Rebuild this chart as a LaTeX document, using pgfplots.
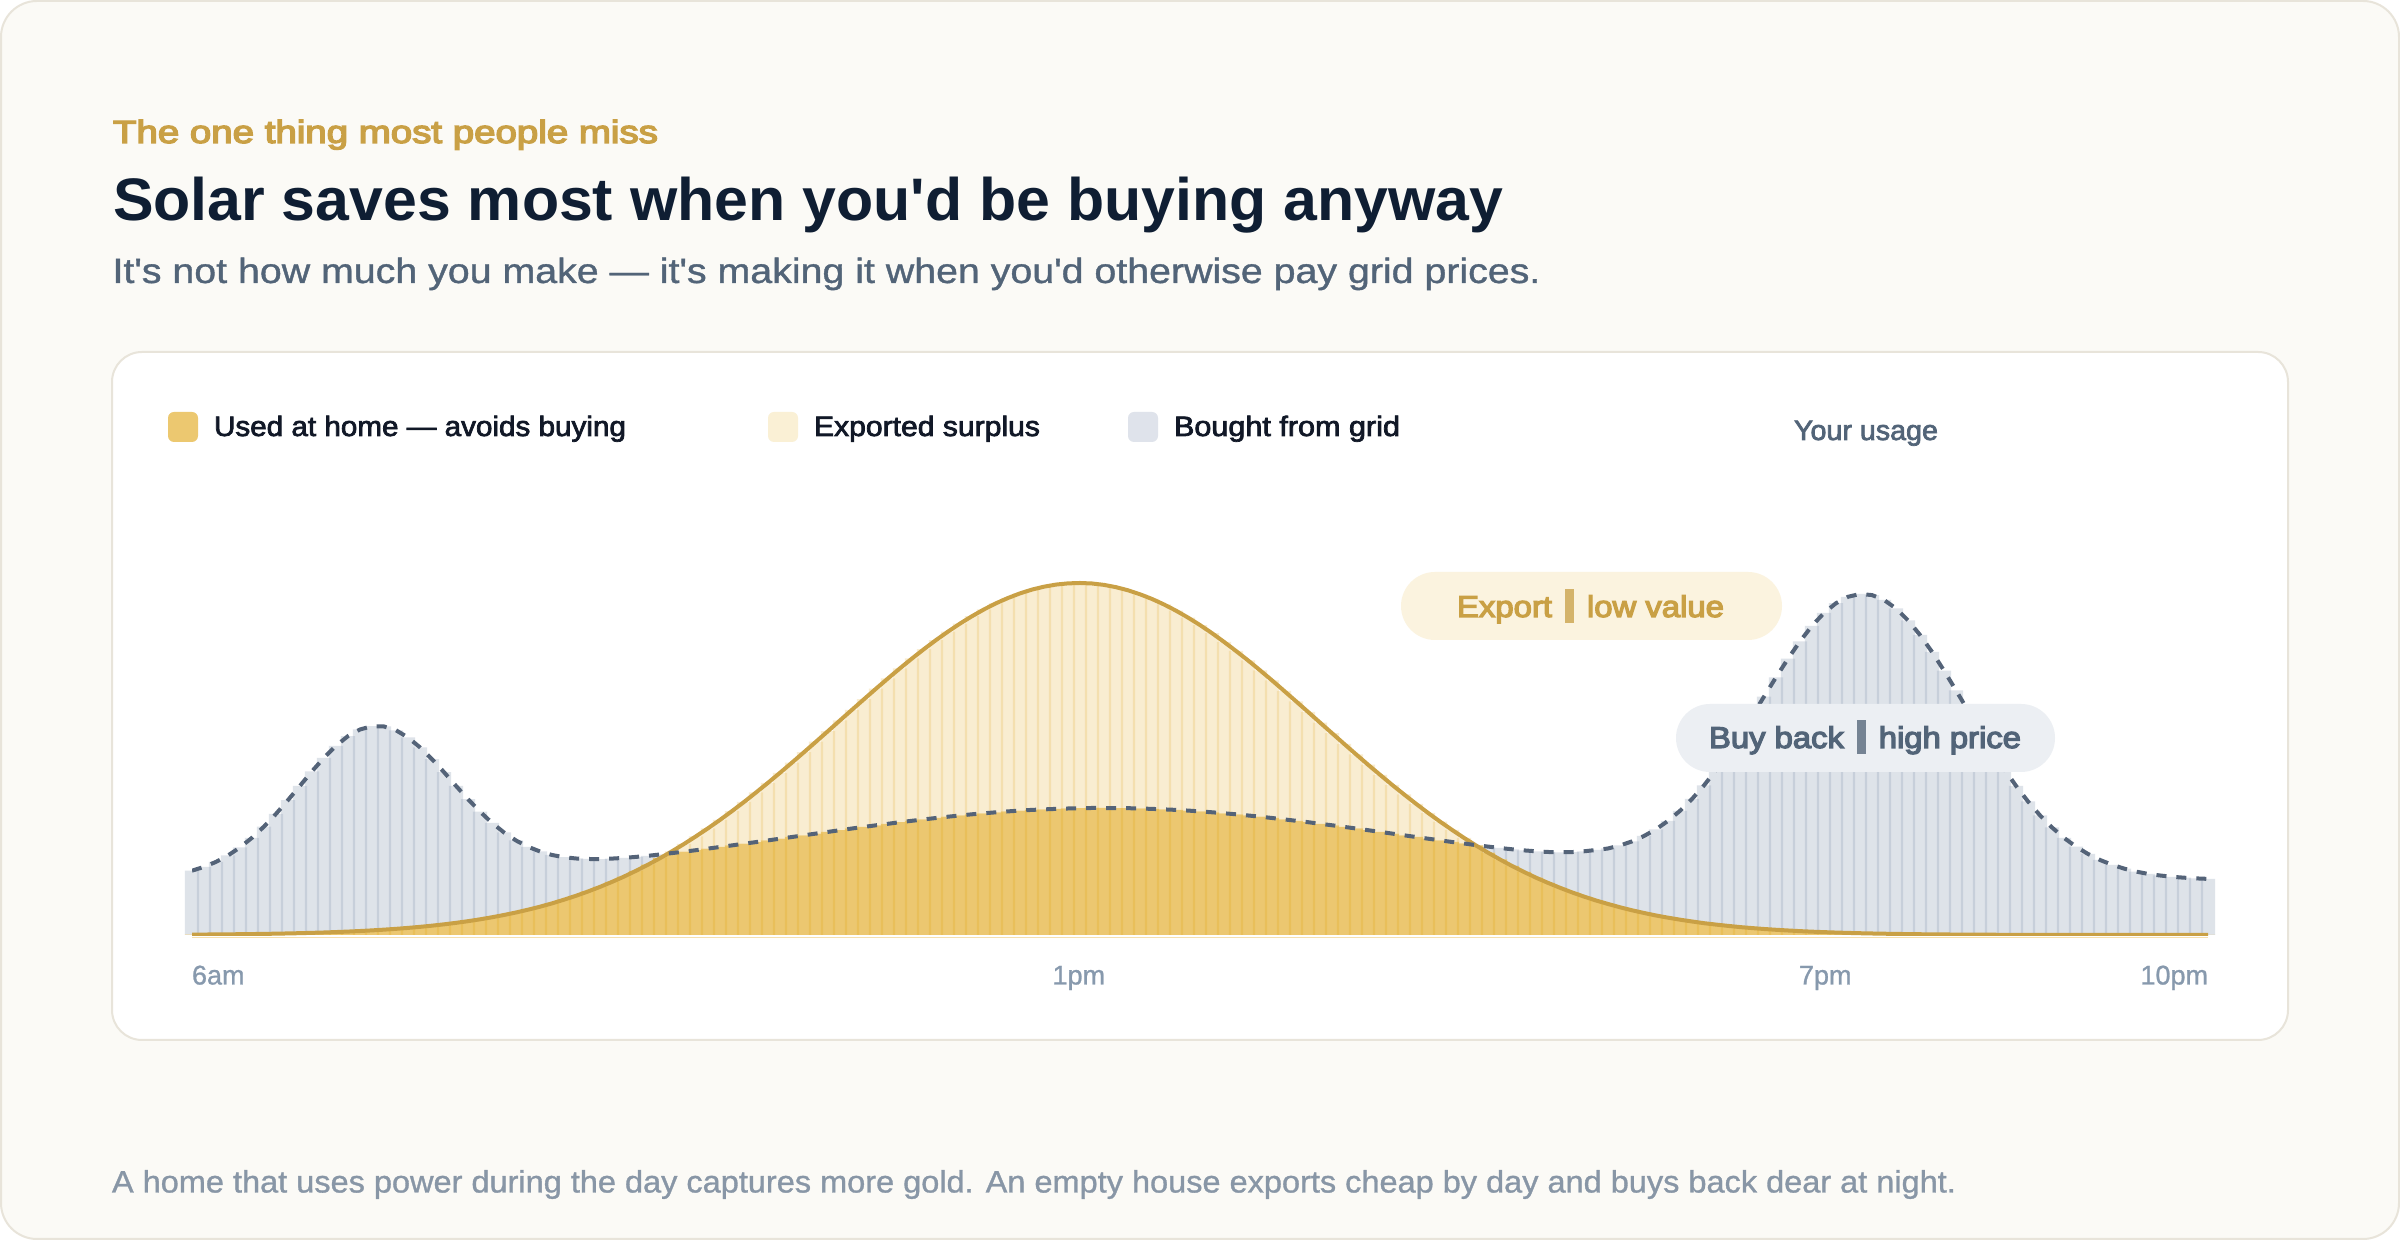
\documentclass[border=0pt]{standalone}
\usepackage{fontspec}
\usepackage{graphicx}
\usepackage{pgfplots}
\usepackage{pgfplotstable}
\pgfplotsset{compat=1.18}
\newfontfamily\rfont{Liberation Sans}[FakeBold=1]
\newfontfamily\medfont{Liberation Sans}[FakeBold=2.5]
\newfontfamily\semifont{Liberation Sans}[FakeBold=4]
\newfontfamily\tfont{Liberation Sans}[BoldFont={Liberation Sans Bold}]
\definecolor{bgcol}{HTML}{FBFAF6}
\definecolor{edgecol}{HTML}{E8E4DA}
\definecolor{gold}{HTML}{C9A045}
\definecolor{usedfill}{HTML}{E9BE57}
\definecolor{goldfill}{HTML}{E8B84B}
\definecolor{slatefill}{HTML}{94A3B8}
\definecolor{slateline}{HTML}{546378}
\definecolor{subcol}{HTML}{526478}
\definecolor{inkcol}{HTML}{0F1E33}
\definecolor{tickcol}{HTML}{8799AD}
\definecolor{footcol}{HTML}{8896A6}
\definecolor{legcol}{HTML}{111827}
\definecolor{swgold}{HTML}{ECC870}
\definecolor{swexp}{HTML}{FAF0D5}
\definecolor{swgrey}{HTML}{DFE3EB}
\definecolor{pillgold}{HTML}{FBF3DF}
\definecolor{pillgrey}{HTML}{ECEFF3}
\pgfplotstableread{
i solar usage
0 0.38 64.3
1 0.46 68.1
2 0.55 73.1
3 0.66 79.5
4 0.78 87.6
5 0.93 97.2
6 1.11 108.4
7 1.31 121.1
8 1.55 134.9
9 1.82 149.2
10 2.14 163.7
11 2.50 177.2
12 2.93 189.2
13 3.41 198.9
14 3.97 205.5
15 4.60 208.8
16 5.33 208.5
17 6.15 204.7
18 7.08 197.5
19 8.13 187.6
20 9.32 175.8
21 10.65 162.8
22 12.14 149.1
23 13.80 135.8
24 15.66 123.4
25 17.72 112.1
26 20.0 102.5
27 22.5 94.5
28 25.3 88.2
29 28.3 83.5
30 31.6 80.0
31 35.3 77.8
32 39.2 76.5
33 43.5 76.0
34 48.1 75.9
35 53.1 76.4
36 58.4 77.1
37 64.2 78.1
38 70.3 79.2
39 76.8 80.5
40 83.7 81.9
41 91.0 83.3
42 98.7 84.8
43 106.7 86.4
44 115.1 88.0
45 123.9 89.6
46 133.0 91.3
47 142.5 92.9
48 152.2 94.6
49 162.2 96.3
50 172.4 98.0
51 182.8 99.7
52 193.3 101.4
53 203.9 103.1
54 214.6 104.8
55 225.2 106.5
56 235.8 108.1
57 246.3 109.7
58 256.6 111.2
59 266.7 112.8
60 276.5 114.2
61 285.9 115.6
62 294.9 117.0
63 303.4 118.3
64 311.4 119.5
65 318.8 120.7
66 325.6 121.7
67 331.7 122.7
68 337.0 123.6
69 341.6 124.4
70 345.4 125.1
71 348.3 125.6
72 350.4 126.1
73 351.6 126.5
74 352.0 126.8
75 351.5 127.0
76 350.1 127.0
77 347.8 126.9
78 344.7 126.8
79 340.7 126.5
80 336.0 126.1
81 330.5 125.6
82 324.3 125.1
83 317.4 124.4
84 309.9 123.6
85 301.8 122.7
86 293.1 121.7
87 284.0 120.7
88 274.6 119.5
89 264.7 118.3
90 254.6 117.0
91 244.2 115.6
92 233.7 114.2
93 223.1 112.8
94 212.4 111.2
95 201.8 109.7
96 191.2 108.1
97 180.7 106.5
98 170.3 104.8
99 160.2 103.1
100 150.2 101.4
101 140.6 99.7
102 131.2 98.0
103 122.1 96.3
104 113.4 94.7
105 105.1 93.0
106 97.1 91.5
107 89.5 89.8
108 82.3 88.4
109 75.5 87.0
110 69.0 85.7
111 63.0 84.6
112 57.3 83.7
113 52.1 83.0
114 47.2 82.7
115 42.6 82.9
116 38.4 83.7
117 34.5 85.0
118 31.0 86.5
119 27.7 89.5
120 24.7 93.6
121 22.0 99.0
122 19.5 105.7
123 17.3 114.1
124 15.3 124.2
125 13.5 136.0
126 11.8 149.6
127 10.4 165.0
128 9.1 181.9
129 7.9 199.9
130 6.9 218.8
131 6.0 238.4
132 5.2 257.7
133 4.5 276.3
134 3.85 293.7
135 3.31 309.2
136 2.84 322.0
137 2.43 331.8
138 2.07 338.2
139 1.76 341.0
140 1.50 339.9
141 1.27 335.0
142 1.07 326.5
143 0.90 314.6
144 0.75 300.0
145 0.63 283.1
146 0.53 264.3
147 0.44 244.6
148 0.37 224.3
149 0.31 204.2
150 0.25 184.8
151 0.21 166.3
152 0.17 149.1
153 0.14 133.5
154 0.12 119.6
155 0.10 107.5
156 0.08 97.1
157 0.06 88.3
158 0.05 81.0
159 0.04 75.0
160 0.03 70.2
161 0.03 66.4
162 0.02 63.4
163 0.02 61.1
164 0.01 59.5
165 0.01 58.2
166 0.01 57.3
167 0.01 56.6
168 0.01 56.1
}\solardata
% a text line stretched to its measured width, in pixels/2 = pt
\newcommand{\fit}[2]{\resizebox{#1pt}{\height}{#2}}
\newcommand{\tofu}[1]{\hspace{1.6pt}\textcolor{#1!80!white}{\rule[-3pt]{4.4pt}{17pt}}\hspace{1.6pt}}
\begin{document}
\begin{tikzpicture}[x=0.5pt,y=0.5pt,
  txt/.style={anchor=base west,inner sep=0pt,outer sep=0pt}]
\path[use as bounding box] (0,0) rectangle (2400,1240);
\fill[white] (0,0) rectangle (2400,1240);
\draw[fill=bgcol,draw=edgecol,line width=1pt,rounded corners=18pt] (1,1) rectangle (2399,1239);
\draw[fill=white,draw=edgecol,line width=1pt,rounded corners=15pt] (112,200) rectangle (2288,888);

\node[txt,text=gold] at (113,1097) {\fit{272.5}{\fontsize{16}{18}\semifont The one thing most people miss}};
\node[txt,text=inkcol] at (113,1019) {\fit{695}{\fontsize{30}{36}\tfont\bfseries Solar saves most when you'd be buying anyway}};
\node[txt,text=subcol] at (112.5,957) {\fit{714}{\fontsize{17.5}{20}\rfont It's not how much you make — it's making it when you'd otherwise pay grid prices.}};

\coordinate (barsorigin) at (192,302.5);
\coordinate (linesorigin) at (192,304);
\begin{axis}[at={(barsorigin)},anchor=south west,scale only axis,
  width=1008pt,height=201.25pt,
  xmin=0,xmax=168,ymin=-2.5,ymax=400,clip=false,
  ybar stacked,bar width=7.2pt,
  axis x line*=bottom,axis y line=none,
  axis line style={draw=goldfill!45!white,line width=0.9pt,-},
  xtick={0,73.9,136.1,168},
  xticklabels={\rlap{6am},1pm,7pm,\llap{10pm}},
  major tick length=0pt,
  xticklabel style={anchor=base,yshift=-23.5pt,inner sep=0pt,text=tickcol,font=\fontsize{13.5}{16}\rfont}]
% even and odd bars are separate paths, so that neighbours overlap visibly
\addplot[fill=usedfill,fill opacity=.85,draw=none] table[x=i,y expr={mod(\thisrow{i},2)==0 ? min(\thisrow{solar},\thisrow{usage}) : 0}] {\solardata};
\addplot[fill=usedfill,fill opacity=.85,draw=none] table[x=i,y expr={mod(\thisrow{i},2)==1 ? min(\thisrow{solar},\thisrow{usage}) : 0}] {\solardata};
\addplot[fill=slatefill,fill opacity=.3,draw=none] table[x=i,y expr={mod(\thisrow{i},2)==0 ? max(\thisrow{usage}-\thisrow{solar},0) : 0}] {\solardata};
\addplot[fill=slatefill,fill opacity=.3,draw=none] table[x=i,y expr={mod(\thisrow{i},2)==1 ? max(\thisrow{usage}-\thisrow{solar},0) : 0}] {\solardata};
\addplot[fill=goldfill,fill opacity=.25,draw=none] table[x=i,y expr={mod(\thisrow{i},2)==0 ? max(\thisrow{solar}-\thisrow{usage},0) : 0}] {\solardata};
\addplot[fill=goldfill,fill opacity=.25,draw=none] table[x=i,y expr={mod(\thisrow{i},2)==1 ? max(\thisrow{solar}-\thisrow{usage},0) : 0}] {\solardata};
\end{axis}
\begin{axis}[at={(linesorigin)},anchor=south west,scale only axis,
  width=1008pt,height=200.5pt,
  xmin=0,xmax=168,ymin=-1,ymax=400,clip=true,
  hide axis]
\addplot[draw=gold,line width=2pt] table[x=i,y=solar] {\solardata};
\addplot[draw=slateline,line width=2pt,dash pattern=on 5pt off 5pt] table[x=i,y=usage] {\solardata};
\end{axis}

% legend
\fill[swgold,rounded corners=3pt] (168,798) rectangle (198,828);
\node[txt,text=legcol] at (214,804) {\fit{206}{\fontsize{14}{17}\medfont Used at home — avoids buying}};
\fill[swexp,rounded corners=3pt] (768,798) rectangle (798,828);
\node[txt,text=legcol] at (814,804) {\fit{113}{\fontsize{14}{17}\medfont Exported surplus}};
\fill[swgrey,rounded corners=3pt] (1128,798) rectangle (1158,828);
\node[txt,text=legcol] at (1174,804) {\fit{113}{\fontsize{14}{17}\medfont Bought from grid}};
\node[txt,text=subcol] at (1794,800) {\fit{72}{\fontsize{14}{17}\medfont Your usage}};

% pills
\fill[pillgold,rounded corners=17pt] (1401,600) rectangle (1782,668);
\node[txt,text=gold] at (1457,623) {\fit{133.5}{\fontsize{15}{18}\semifont Export \tofu{gold} low value}};
\fill[pillgrey,rounded corners=17pt] (1676,468) rectangle (2055,536);
\node[txt,text=subcol] at (1709,492) {\fit{156}{\fontsize{15}{18}\semifont Buy back \tofu{subcol} high price}};

\node[txt,text=footcol] at (112,47.5) {\fit{922}{\fontsize{15.5}{18}\rfont A home that uses power during the day captures more gold. An empty house exports cheap by day and buys back dear at night.}};
\end{tikzpicture}
\end{document}
